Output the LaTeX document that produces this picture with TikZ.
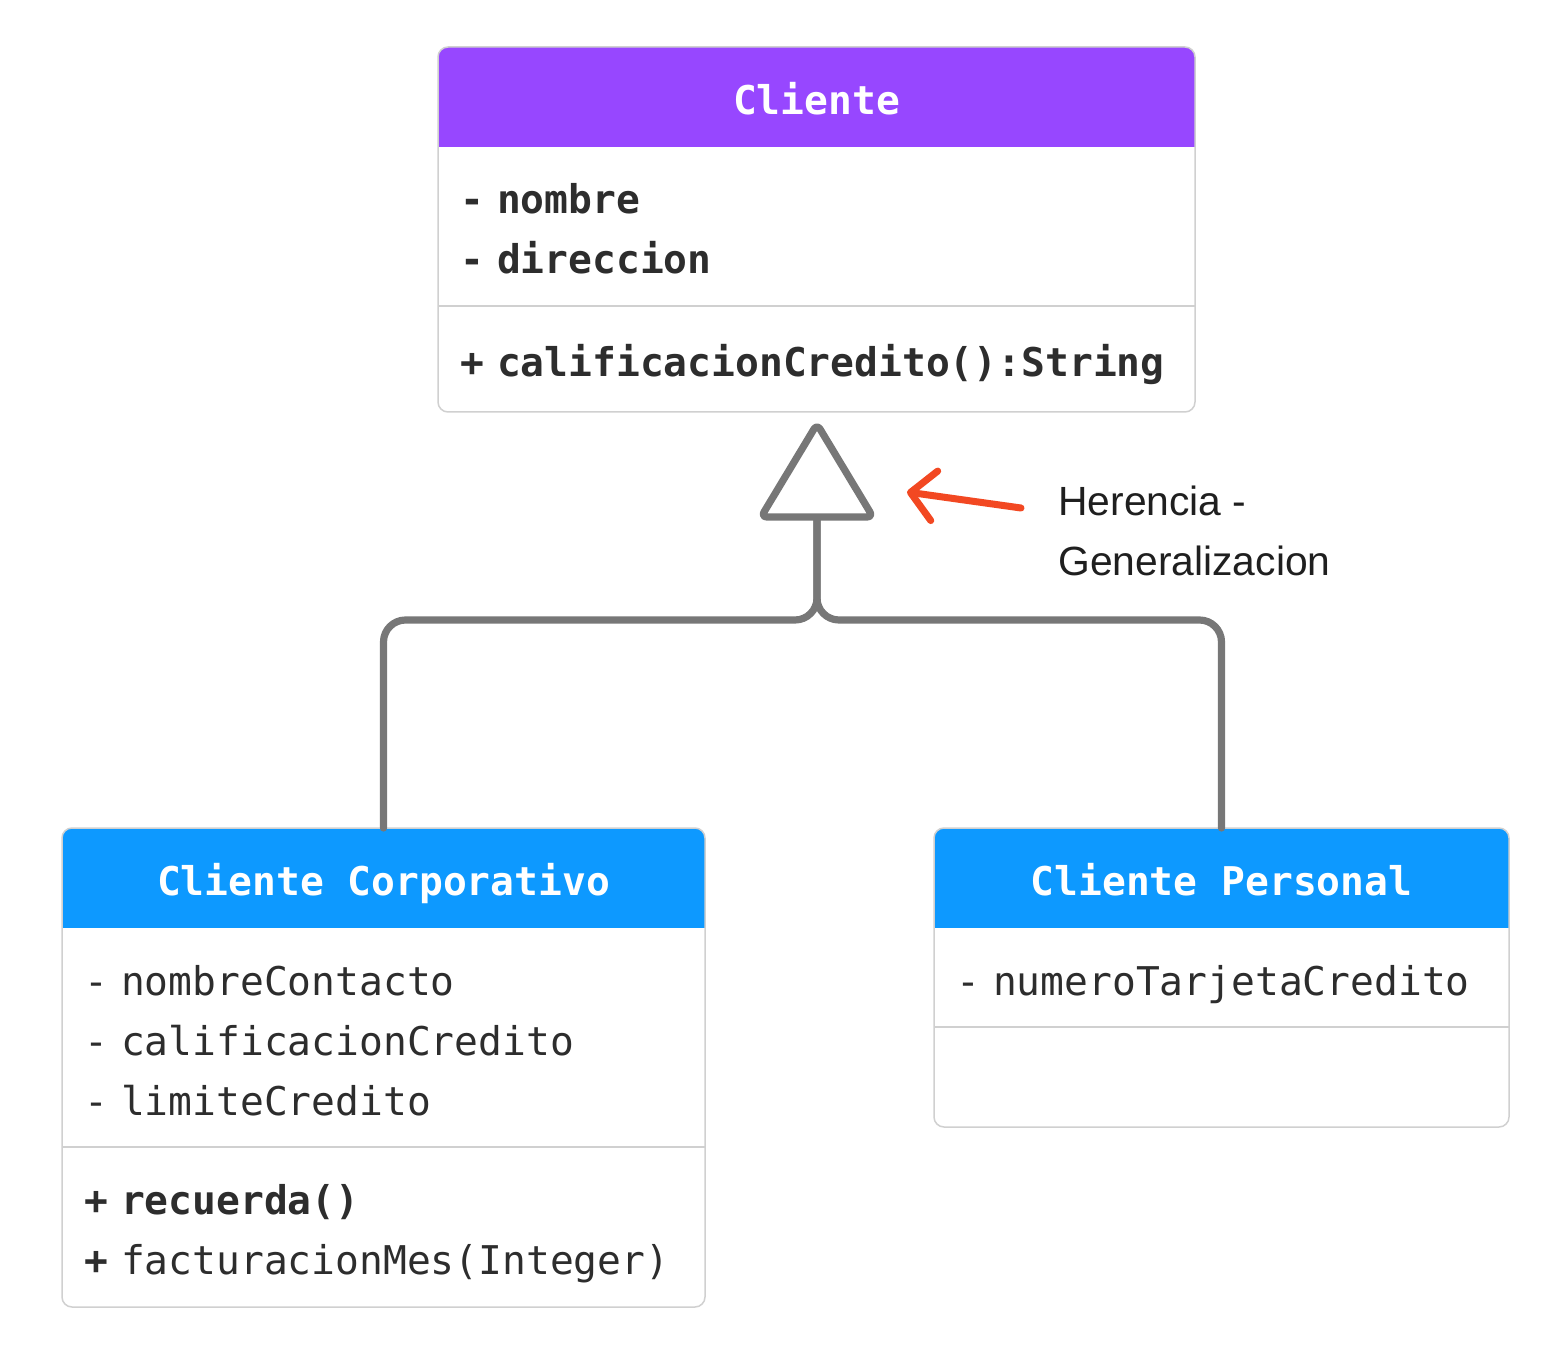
\documentclass[tikz,border=0pt]{standalone}
\usepackage{fontspec}
\setmonofont{DejaVu Sans Mono}
\newfontfamily\etiqueta{Liberation Sans}
\usetikzlibrary{positioning,backgrounds,arrows.meta}
\definecolor{colmorado}{RGB}{151,71,255}
\definecolor{colazul}{RGB}{13,153,255}
\definecolor{colgris}{RGB}{119,119,119}
\definecolor{colrojo}{RGB}{242,72,34}
\definecolor{colborde}{RGB}{208,208,208}
\definecolor{coltexto}{RGB}{45,45,45}
\newcommand{\linea}{\rule[-6pt]{0pt}{29.5pt}}
\tikzset{
  cabecera/.style={
    rectangle,
    minimum height=50pt,
    inner sep=0pt,
    outer sep=0pt,
    text height=17.5pt,
    text depth=0pt,
    text=white,
    font=\ttfamily\bfseries\fontsize{19.8}{30}\selectfont
  },
  compart/.style={
    rectangle,
    inner xsep=11pt,
    inner ysep=0pt,
    outer sep=0pt,
    align=left,
    text=coltexto,
    execute at begin node=\linea,
    execute at end node=\linea,
    font=\ttfamily\fontsize{19.8}{30}\selectfont
  },
  borde/.style={draw=colborde, line width=0.75pt},
  herencia/.style={draw=colgris, line width=3.6pt, line cap=round, line join=round},
  nota/.style={draw=colrojo, line width=3.5pt, line cap=round,
    -{Straight Barb[length=12pt,width=25pt,round]}}
}
% outline of a class box: #1 header, #2 last compartment, #3 colour
\newcommand{\marcoclase}[3]{%
  \begin{pgfonlayer}{background}
    \begin{scope}
      \clip[rounded corners=5pt] (#1.north west) rectangle (#2.south east);
      \fill[#3] (#1.north west) rectangle (#1.south east);
    \end{scope}
  \end{pgfonlayer}
  \draw[borde, rounded corners=5pt] (#1.north west) rectangle (#2.south east);
}

\begin{document}
\begin{tikzpicture}[x=0.5pt, y=-0.5pt]
  \useasboundingbox (0,0) rectangle (1558,1358);

  % Cliente
  \node[cabecera, minimum width=378.5pt] (cli-head) at (816.5,97) {Cliente};
  \node[compart, text width=356.5pt, minimum height=79.5pt, below=0pt of cli-head]
    (cli-attr) {\textbf{- nombre}\\\textbf{- direccion}};
  \node[compart, text width=356.5pt, minimum height=53pt, below=0pt of cli-attr]
    (cli-meth) {\textbf{+ calificacionCredito():String}};
  \marcoclase{cli-head}{cli-meth}{colmorado}
  \draw[borde] (cli-attr.south west) -- (cli-attr.south east);

  % Cliente Corporativo
  \node[cabecera, minimum width=321.5pt] (corp-head) at (383.5,878)
    {Cliente Corporativo};
  \node[compart, text width=299.5pt, minimum height=109.5pt, below=0pt of corp-head]
    (corp-attr) {- nombreContacto\\- calificacionCredito\\- limiteCredito};
  \node[compart, text width=299.5pt, minimum height=80pt, below=0pt of corp-attr]
    (corp-meth) {\textbf{+ recuerda()}\\\textbf{+} facturacionMes(Integer)};
  \marcoclase{corp-head}{corp-meth}{colazul}
  \draw[borde] (corp-attr.south west) -- (corp-attr.south east);

  % Cliente Personal
  \node[cabecera, minimum width=287.5pt] (pers-head) at (1221.5,878)
    {Cliente Personal};
  \node[compart, text width=265.5pt, minimum height=49.5pt, below=0pt of pers-head]
    (pers-attr) {- numeroTarjetaCredito};
  \node[compart, text width=265.5pt, minimum height=50pt, below=0pt of pers-attr]
    (pers-meth) {};
  \marcoclase{pers-head}{pers-meth}{colazul}
  \draw[borde] (pers-attr.south west) -- (pers-attr.south east);

  % generalization
  \coordinate (union) at (817,620);
  \coordinate (tri-base) at (817,517);
  \coordinate (tri-top) at (817,424);
  \coordinate (tri-left) at (761,517);
  \coordinate (tri-right) at (873,517);
  \draw[herencia, rounded corners=11pt] (corp-head.north) |- (union) -- (tri-base);
  \draw[herencia, rounded corners=11pt] (pers-head.north) |- (union) -- (tri-base);
  \draw[herencia, fill=white, rounded corners=3pt]
    (tri-top) -- (tri-right) -- (tri-left) -- cycle;

  % note
  \node[anchor=west, align=left, inner sep=0pt, text=black!88,
    font=\etiqueta\fontsize{20.4}{30}\selectfont] (nota-txt) at (1058,531)
    {Herencia -\\Generalizacion};
  \coordinate (nota-ini) at (1021,508);
  \coordinate (nota-fin) at (907,492);
  \draw[nota] (nota-ini) -- (nota-fin);
\end{tikzpicture}
\end{document}
